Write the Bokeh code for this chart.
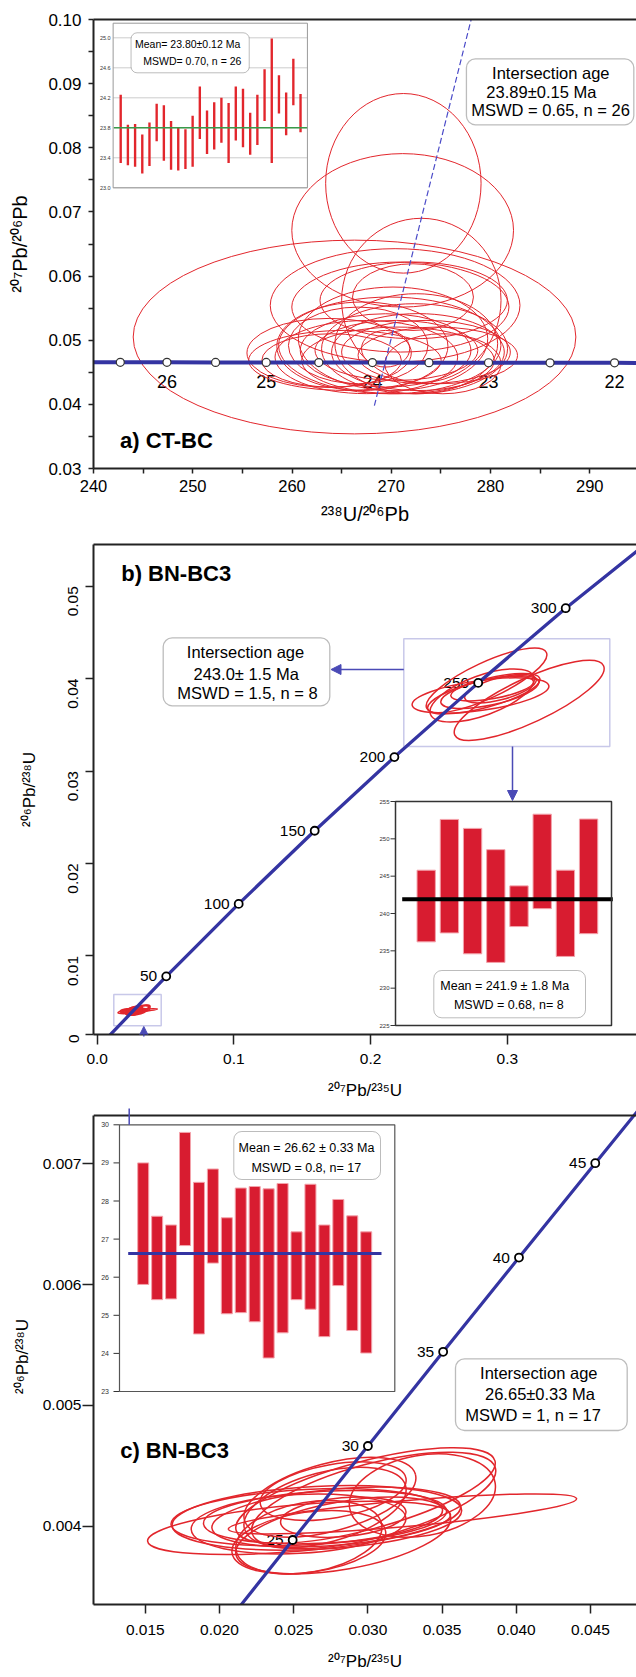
from bokeh.plotting import figure
from bokeh.layouts import column
from bokeh.models import (Range1d, FixedTicker, PrintfTickFormatter, LinearAxis,
                          BoxAnnotation, Label, Arrow, NormalHead)
from bokeh.core.properties import value
from bokeh.embed import file_html
from bokeh.resources import INLINE

FONT = "Liberation Sans"
RED = "#e2262c"
BAR_RED = "#d81c30"
BLUE = "#3434a2"
BLUE_BOX = "#4a4ab6"

# ================= DATA =================
# (a) CT-BC  Tera-Wasserburg
a_conc_lbl = ["", "26", "", "25", "", "24", "", "23", "", "22"]
a_conc_x = [242.7, 247.4, 252.3, 257.4, 262.7, 268.1, 273.8, 279.8, 286.0, 292.5]
a_conc_y = [0.04656, 0.04655, 0.04654, 0.04653, 0.04652, 0.04651, 0.04650, 0.04649, 0.04648, 0.04647]
a_line_x = [238.3] + a_conc_x + [299.3]
a_line_y = [0.04657] + a_conc_y + [0.04646]
a_disc_x = [268.3, 278.05]
a_disc_y = [0.0398, 0.1000]
a_ell_x = [271.22, 271.15, 273.03, 266.30, 270.39, 270.92, 272.26, 272.19,
           263.74, 267.09, 269.85, 269.43, 272.35, 273.50, 269.43, 265.33, 270.68,
           272.69, 267.49, 274.69, 263.99, 266.67, 270.52, 275.20, 270.18, 272.52]
a_ell_y = [0.07446, 0.06713, 0.05621, 0.05050, 0.05543, 0.05517, 0.05621, 0.05672,
           0.04802, 0.04906, 0.04919, 0.04841, 0.04867, 0.04815, 0.04867, 0.04685, 0.04685,
           0.04815, 0.04737, 0.04763, 0.04685, 0.04919, 0.04841, 0.04633, 0.05023, 0.04945]
a_ell_w = [15.66, 22.34, 16.06, 44.60, 25.16, 21.88, 18.88, 12.18,
           16.56, 17.24, 22.40, 17.20, 18.74, 17.00, 4.86, 19.40, 19.40,
           17.40, 18.40, 16.06, 14.06, 14.06, 16.40, 11.72, 19.08, 16.40]
a_ell_h = [0.02800, 0.02392, 0.02560, 0.03020, 0.01768, 0.01404, 0.01196, 0.01040,
           0.01076, 0.01380, 0.01508, 0.01144, 0.01404, 0.00988, 0.00572, 0.00936, 0.01040,
           0.01200, 0.01140, 0.00884, 0.00832, 0.01196, 0.00936, 0.00936, 0.01612, 0.01560]
a_wm_hi = [24.24, 23.84, 23.85, 23.71, 23.87, 24.12, 24.10, 23.89, 23.80, 23.78, 23.96, 24.35, 24.03,
           24.14, 24.20, 24.13, 24.35, 24.32, 24.00, 24.24, 24.58, 24.99, 24.50, 24.27, 24.72, 24.25]
a_wm_lo = [23.33, 23.30, 23.28, 23.19, 23.29, 23.62, 23.36, 23.24, 23.23, 23.25, 23.28, 23.65, 23.45,
           23.51, 23.60, 23.33, 23.63, 23.54, 23.44, 23.57, 23.89, 23.33, 23.99, 23.70, 24.10, 23.74]
a_wm_mean = 23.80
a_wm_ticks = [23.0, 23.4, 23.8, 24.2, 24.6, 25.0]
a_wm_tick_lbl = ["23.0", "23.4", "23.8", "24.2", "24.6", "25.0"]
a_x_ticks = [240, 250, 260, 270, 280, 290]
a_x_minor = [245, 255, 265, 275, 285]
a_y_ticks = [0.03, 0.04, 0.05, 0.06, 0.07, 0.08, 0.09, 0.10]
a_y_minor = [0.035, 0.045, 0.055, 0.065, 0.075, 0.085, 0.095]

# (b) BN-BC3  Wetherill
b_conc_lbl = ["50", "100", "150", "200", "250", "300"]
b_conc_x = [0.0505, 0.1035, 0.1591, 0.2174, 0.2787, 0.3427]
b_conc_y = [0.00779, 0.01563, 0.02354, 0.03151, 0.03954, 0.04762]
b_line_x = [0.0] + b_conc_x + [0.4116]
b_line_y = [0.0] + b_conc_y + [0.05579]
b_ell_x = [0.3160, 0.2848, 0.2804, 0.2828, 0.2950, 0.2872, 0.2889, 0.2816]
b_ell_y = [0.03764, 0.03981, 0.03818, 0.03837, 0.03891, 0.03854, 0.03891, 0.03818]
b_ell_w = [0.1200, 0.0966, 0.1010, 0.0849, 0.0541, 0.0732, 0.0614, 0.0805]
b_ell_h = [0.00476, 0.00389, 0.00324, 0.00303, 0.00238, 0.00281, 0.00216, 0.00432]
b_ell_a = [25, 25, 8, 15, 15, 12, 10, 20]
b_wm_hi = [245.8, 252.6, 251.4, 248.55, 243.7, 253.3, 245.8, 252.65]
b_wm_lo = [236.2, 237.4, 234.6, 233.45, 238.25, 240.65, 234.25, 237.3]
b_wm_mean = 241.9
b_wm_ticks = [225, 230, 235, 240, 245, 250, 255]
b_wm_tick_lbl = ["225", "230", "235", "240", "245", "250", "255"]
b_x_ticks = [0.0, 0.1, 0.2, 0.3]
b_y_ticks = [0.01, 0.02, 0.03, 0.04, 0.05]
b_origin_lbl = "0"

# (c) BN-BC3 (young population)
c_conc_lbl = ["25", "30", "35", "40", "45"]
c_conc_x = [0.02493, 0.03000, 0.03507, 0.04018, 0.04532]
c_conc_y = [0.003886, 0.004664, 0.005444, 0.006224, 0.007005]
c_line_x = [0.01989] + c_conc_x + [0.05048]
c_line_y = [0.003107] + c_conc_y + [0.007786]
c_ell_x = [0.02536, 0.03233, 0.02984, 0.03039, 0.02744, 0.02766, 0.02656, 0.02711, 0.02834,
           0.02834, 0.02602, 0.02588, 0.02533, 0.02787, 0.02711, 0.03367, 0.02602]
c_ell_y = [0.003986, 0.004102, 0.004254, 0.004213, 0.004240, 0.004290, 0.004069, 0.004075, 0.003923,
           0.004075, 0.003909, 0.004075, 0.004019, 0.004075, 0.004157, 0.004254, 0.003868]
c_ell_w = [0.02049, 0.02356, 0.01806, 0.01698, 0.01193, 0.00997, 0.01954, 0.01640, 0.01469,
           0.00848, 0.00996, 0.01832, 0.01449, 0.01683, 0.01124, 0.00995, 0.01045]
c_ell_h = [0.000384, 0.000215, 0.000563, 0.000611, 0.000561, 0.000442, 0.000520, 0.000430, 0.000560,
           0.000323, 0.000578, 0.000459, 0.000488, 0.000464, 0.000578, 0.000667, 0.000498]
c_ell_a = [5, 5, 15, 15, 15, 10, 3, 3, 10, 5, 10, 3, 3, 5, 15, 10, 8]
c_wm_hi = [29.0, 27.6, 27.37, 29.8, 28.49, 28.84, 27.56, 28.34, 28.38, 28.32, 28.46, 27.19, 28.44,
           27.37, 28.04, 27.61, 27.19]
c_wm_lo = [25.81, 25.41, 25.43, 26.83, 24.51, 26.37, 25.04, 25.07, 24.83, 23.88, 24.54, 25.41, 25.16,
           24.44, 25.78, 24.6, 24.01]
c_wm_mean = 26.62
c_wm_ticks = [23, 24, 25, 26, 27, 28, 29, 30]
c_wm_tick_lbl = ["23", "24", "25", "26", "27", "28", "29", "30"]
c_x_ticks = [0.015, 0.020, 0.025, 0.030, 0.035, 0.040, 0.045]
c_y_ticks = [0.004, 0.005, 0.006, 0.007]


# ================= LAYOUT HELPERS =================
class Geo:
    """Linear map between page pixels and data values, fixed by two reference corners."""
    def __init__(self, L, R, T, B, x0, x1, y0, y1):
        self.L, self.R, self.T, self.B = L, R, T, B
        self.x0, self.x1, self.y0, self.y1 = x0, x1, y0, y1

    def x(self, px):
        return self.x0 + (px - self.L) * (self.x1 - self.x0) / (self.R - self.L)

    def y(self, py):
        return self.y0 + (self.B - py) * (self.y1 - self.y0) / (self.B - self.T)

    def dx(self, d):
        return d * (self.x1 - self.x0) / (self.R - self.L)


def make_fig(g, frame, top_page, height):
    L, R, T, B = frame
    p = figure(width=636, height=height,
               x_range=Range1d(g.x(L), g.x(R)), y_range=Range1d(g.y(B), g.y(T)),
               min_border_left=int(L), min_border_right=0,
               min_border_top=int(round(T - top_page)),
               min_border_bottom=int(round(top_page + height - B)),
               output_backend="svg", toolbar_location=None)
    p.xgrid.visible = False
    p.ygrid.visible = False
    p.outline_line_color = None
    p.background_fill_color = "white"
    p.border_fill_color = "white"
    top = LinearAxis(ticker=FixedTicker(ticks=[]), major_label_text_font_size="0px",
                     major_tick_line_color=None, minor_tick_line_color=None,
                     major_tick_out=0, minor_tick_out=0, major_tick_in=0, minor_tick_in=0,
                     axis_line_width=2, axis_line_color="#222")
    p.add_layout(top, "above")
    return p


def style(ax, ticks, fmt, size, tick_out, standoff, title, title_size, title_standoff,
          minor=None, minor_out=0, orient=None):
    ax.ticker = FixedTicker(ticks=ticks, minor_ticks=minor or [])
    ax.formatter = PrintfTickFormatter(format=fmt)
    ax.axis_line_width = 2
    ax.axis_line_color = "#222"
    ax.major_tick_line_color = "#222"
    ax.major_tick_line_width = 1.5
    ax.major_tick_in = 0
    ax.major_tick_out = tick_out
    ax.minor_tick_line_color = "#222"
    ax.minor_tick_line_width = 1.5
    ax.minor_tick_in = 0
    ax.minor_tick_out = minor_out
    ax.major_label_text_font = FONT
    ax.major_label_text_font_size = f"{size}px"
    ax.major_label_text_color = "black"
    ax.major_label_standoff = standoff
    ax.axis_label = title
    ax.axis_label_text_font = FONT
    ax.axis_label_text_font_size = f"{title_size}px"
    ax.axis_label_text_font_style = "normal"
    ax.axis_label_text_color = "black"
    ax.axis_label_standoff = title_standoff
    if orient is not None:
        ax.major_label_orientation = orient


def draw_inset(p, frame, name, ig, box, lo, hi, bar_w, bar_fill, bar_line, mean, mean_px,
               mean_color, mean_w, ticks, tick_lbl, tick_font, tick_len, lbl_gap,
               frame_color, frame_w, grid_color=None):
    L, R, T, B = frame
    p.extra_x_ranges[name + "x"] = Range1d(ig.x(L), ig.x(R))
    p.extra_y_ranges[name + "y"] = Range1d(ig.y(B), ig.y(T))
    kw = dict(x_range_name=name + "x", y_range_name=name + "y")
    bx0, bx1 = ig.x(box[0]), ig.x(box[1])
    by1, by0 = ig.y(box[2]), ig.y(box[3])
    n = len(ticks)
    p.quad(left=[bx0], right=[bx1], bottom=[by0], top=[by1],
           fill_color="white", line_color=None, **kw)
    if grid_color:
        p.segment(x0=[bx0] * n, x1=[bx1] * n, y0=ticks, y1=ticks,
                  line_color=grid_color, line_width=1, **kw)
    if tick_len:
        p.segment(x0=[bx0 - ig.dx(tick_len)] * n, x1=[bx0] * n, y0=ticks, y1=ticks,
                  line_color="#333", line_width=1, **kw)
    p.text(x=[bx0] * n, y=ticks, text=tick_lbl, x_offset=-lbl_gap,
           text_align="right", text_baseline="middle", text_font=value(FONT),
           text_font_size=f"{tick_font}px", text_color="#333", **kw)
    idx = list(range(len(lo)))
    p.vbar(x=idx, width=bar_w, bottom=lo, top=hi, fill_color=bar_fill,
           line_color=bar_line, line_width=1 if bar_line else 0, **kw)
    p.segment(x0=[ig.x(mean_px[0])], x1=[ig.x(mean_px[1])], y0=[mean], y1=[mean],
              line_color=mean_color, line_width=mean_w, **kw)
    p.quad(left=[bx0], right=[bx1], bottom=[by0], top=[by1],
           fill_color=None, line_color=frame_color, line_width=frame_w, **kw)


def rbox(p, g, box, radius, lw, lines, font_size):
    p.add_layout(BoxAnnotation(left=g.x(box[0]), right=g.x(box[1]),
                               top=g.y(box[2]), bottom=g.y(box[3]),
                               fill_color="white", fill_alpha=1.0,
                               line_color="#222", line_width=lw,
                               border_radius=radius))
    for txt, cx, cy in lines:
        p.add_layout(Label(x=g.x(cx), y=g.y(cy), text=txt, text_align="center",
                           text_baseline="middle", text_font=FONT,
                           text_font_size=f"{font_size}px", text_color="black"))


def title(p, g, txt, lx, cy):
    p.add_layout(Label(x=g.x(lx), y=g.y(cy), text=txt, text_align="left",
                       text_baseline="middle", text_font=FONT, text_font_style="bold",
                       text_font_size="22px", text_color="black"))


def seg(p, g, x0, y0, x1, y1, head=False):
    p.add_layout(Arrow(x_start=g.x(x0), y_start=g.y(y0), x_end=g.x(x1), y_end=g.y(y1),
                       end=NormalHead(size=10, fill_color=BLUE_BOX, line_color=BLUE_BOX) if head else None,
                       line_color=BLUE_BOX, line_width=1.5))


def blue_rect(p, g, box):
    p.add_layout(BoxAnnotation(left=g.x(box[0]), right=g.x(box[1]),
                               top=g.y(box[2]), bottom=g.y(box[3]),
                               fill_alpha=0.0, line_color=BLUE_BOX, line_width=1.5))


# ================= PANEL A =================
gA = Geo(91, 636, 19, 468, 240.0, 294.71, 0.030, 0.100)
frA = (91, 636, 19, 468)
pA = make_fig(gA, frA, 0, 530)
style(pA.below[0], a_x_ticks, "%d", 16.5, 5, 6, "²³⁸U/²⁰⁶Pb", 20, 8, minor=a_x_minor, minor_out=5)
style(pA.left[0], a_y_ticks, "%.2f", 17, 5, 7, "²⁰⁷Pb/²⁰⁶Pb", 20, 14, minor=a_y_minor, minor_out=5)

iA = Geo(118.3, 298.8, 22.7, 187.3, 0, 25, 23.0, 25.195)
draw_inset(pA, frA, "ia", iA, (110.7, 305.7, 22.7, 187.3), a_wm_lo, a_wm_hi, 0.33, RED, None,
           a_wm_mean, (111.5, 305.7), "#3a9a4a", 1.5, a_wm_ticks, a_wm_tick_lbl, 5.5, 0, 2.5,
           "#999999", 1, grid_color="#cccccc")

pA.text(x=a_conc_x, y=a_conc_y, text=a_conc_lbl, y_offset=19, text_align="center",
        text_baseline="middle", text_font=value(FONT), text_font_size="18px", text_color="black")
pA.ellipse(x=a_ell_x, y=a_ell_y, width=a_ell_w, height=a_ell_h, fill_color=None,
           line_color=RED, line_width=1)
pA.line(a_line_x, a_line_y, line_color=BLUE, line_width=4)
pA.scatter(a_conc_x, a_conc_y, marker="circle", size=8, fill_color="white",
           line_color="#333", line_width=1.2)
pA.line(a_disc_x, a_disc_y, line_color="#4b4bc8", line_width=1.2, line_dash="6 3")

rbox(pA, gA, (465.3, 633.3, 58.3, 124.3), 9, 1.3,
     [("Intersection age", 550, 72.7), ("23.89±0.15 Ma", 540.5, 91),
      ("MSWD = 0.65, n = 26", 549.7, 109)], 16.5)
rbox(pA, gA, (128.7, 247.3, 32.3, 72.3), 6, 1,
     [("Mean= 23.80±0.12 Ma", 185.5, 43.3), ("MSWD= 0.70, n = 26", 190.2, 60.7)], 10.5)
title(pA, gA, "a) CT-BC", 117.6, 440)

# ================= PANEL B =================
gB = Geo(93, 636, 544, 1034, -0.0027, 0.3945, 0.0015, 0.05451)
frB = (93, 636, 544, 1034)
pB = make_fig(gB, frB, 530, 578)
axBy = pB.left[0]
style(pB.below[0], b_x_ticks, "%.1f", 15.5, 10, 9, "²⁰⁷Pb/²³⁵U", 17, 14)
# the origin "0" sits at the lower corner of the y axis
y_corner = gB.y(1034)
style(axBy, [y_corner] + b_y_ticks, "%.2f", 15.5, 8, 12, "²⁰⁶Pb/²³⁸U", 17, 22, orient=1.5708)
axBy.major_label_overrides = {y_corner: b_origin_lbl}

iB = Geo(425.7, 588.1, 801, 1025, 0, 7, 225, 255)
draw_inset(pB, frB, "ib", iB, (395, 611, 801, 1025), b_wm_lo, b_wm_hi, 0.79, BAR_RED, "#f3a3ab",
           b_wm_mean, (401.7, 612.3), "black", 4, b_wm_ticks, b_wm_tick_lbl, 6, 5, 6,
           "#333333", 1.5)

pB.text(x=b_conc_x, y=b_conc_y, text=b_conc_lbl, x_offset=-9, text_align="right",
        text_baseline="middle", text_font=value(FONT), text_font_size="15.5px", text_color="black")
pB.ellipse(x=b_ell_x, y=b_ell_y, width=b_ell_w, height=b_ell_h, angle=b_ell_a, angle_units="deg",
           fill_color=None, line_color=RED, line_width=1.5)
pB.ellipse(x=c_ell_x, y=c_ell_y, width=c_ell_w, height=c_ell_h, angle=c_ell_a, angle_units="deg",
           fill_color=None, line_color=RED, line_width=1.5)
pB.line(b_line_x, b_line_y, line_color=BLUE, line_width=3.3)
pB.scatter(b_conc_x, b_conc_y, marker="circle", size=8, fill_color="white",
           line_color="black", line_width=1.8)

blue_rect(pB, gB, (403.3, 609.3, 638.3, 746))
blue_rect(pB, gB, (113.3, 160.7, 994, 1025.3))
seg(pB, gB, 403.3, 669, 330.5, 669, head=True)
seg(pB, gB, 512, 746, 512, 800, head=True)
seg(pB, gB, 143.3, 1060, 143.3, 1026, head=True)

rbox(pB, gB, (162.7, 329.3, 637.3, 705.3), 9, 1.3,
     [("Intersection age", 245, 651.7), ("243.0± 1.5 Ma", 245.7, 673.3),
      ("MSWD = 1.5, n = 8", 247, 692.7)], 16.5)
rbox(pB, gB, (433.3, 585, 970, 1017.3), 8, 1,
     [("Mean = 241.9 ± 1.8 Ma", 504.2, 985.7), ("MSWD  = 0.68, n= 8", 510, 1004.3)], 12.5)
title(pB, gB, "b) BN-BC3", 120.7, 573.3)

# ================= PANEL C =================
gC = Geo(93, 636, 1115, 1604, 0.011509, 0.048099, 0.003352, 0.0074)
frC = (93, 636, 1108, 1604)
pC = make_fig(gC, frC, 1108, 569)
style(pC.below[0], c_x_ticks, "%.3f", 15.5, 9, 11, "²⁰⁷Pb/²³⁵U", 17, 14)
style(pC.left[0], c_y_ticks, "%.3f", 15.5, 11, 1, "²⁰⁶Pb/²³⁸U", 17, 8)
pC.above[0].fixed_location = gC.y(1115)
pC.left[0].bounds = (gC.y(1604), gC.y(1115))

iC = Geo(142.7, 365.7, 1124.3, 1391, 0, 16, 23, 30)
draw_inset(pC, frC, "ic", iC, (119, 394.3, 1124.3, 1391), c_wm_lo, c_wm_hi, 0.79, BAR_RED, "#f3a3ab",
           c_wm_mean, (127.7, 381), BLUE, 3, c_wm_ticks, c_wm_tick_lbl, 7, 6, 10.5,
           "#555555", 1.2)

pC.text(x=c_conc_x, y=c_conc_y, text=c_conc_lbl, x_offset=-9, text_align="right",
        text_baseline="middle", text_font=value(FONT), text_font_size="15.5px", text_color="black")
pC.ellipse(x=c_ell_x, y=c_ell_y, width=c_ell_w, height=c_ell_h, angle=c_ell_a, angle_units="deg",
           fill_color=None, line_color=RED, line_width=1.5)
pC.line(c_line_x, c_line_y, line_color=BLUE, line_width=3.2)
pC.scatter(c_conc_x, c_conc_y, marker="circle", size=8, fill_color="white",
           line_color="black", line_width=1.8)

seg(pC, gC, 128.7, 1104, 128.7, 1124.3)
rbox(pC, gC, (455, 626.7, 1358.3, 1430), 9, 1.3,
     [("Intersection age", 538.3, 1372.7), ("26.65±0.33 Ma", 539.5, 1393.3),
      ("MSWD = 1, n = 17", 532.6, 1414.3)], 16.5)
rbox(pC, gC, (233.3, 380, 1131, 1179), 8, 1,
     [("Mean = 26.62 ± 0.33 Ma", 306, 1147.7), ("MSWD  = 0.8, n= 17", 307.5, 1167.7)], 12.5)
title(pC, gC, "c) BN-BC3", 119.7, 1450)

layout = column(pA, pB, pC, spacing=0)
open("out.html", "w").write(file_html(layout, INLINE))
